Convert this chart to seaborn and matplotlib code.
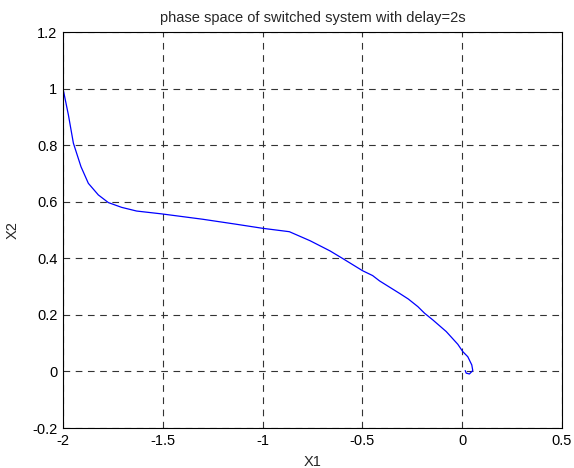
import matplotlib
matplotlib.use("Agg")
import matplotlib.pyplot as plt
import seaborn as sns
import pandas as pd

x1 = [-2.0, -1.973, -1.948, -1.91, -1.873, -1.823, -1.773, -1.706, -1.631, -1.506,
      -1.30, -1.138, -1.0, -0.866, -0.762, -0.662, -0.596, -0.499, -0.449, -0.414,
      -0.314, -0.27, -0.222, -0.189, -0.147, -0.08, -0.022, 0.003, 0.028, 0.048,
      0.053, 0.036, 0.02, 0.015]
x2 = [1.0, 0.907, 0.807, 0.724, 0.665, 0.624, 0.597, 0.580, 0.567, 0.557,
      0.538, 0.521, 0.506, 0.494, 0.462, 0.426, 0.398, 0.356, 0.339, 0.320,
      0.276, 0.256, 0.229, 0.206, 0.182, 0.141, 0.096, 0.070, 0.052, 0.023,
      0.003, -0.009, -0.006, 0.003]

xticks = [-2, -1.5, -1, -0.5, 0, 0.5]
yticks = [-0.2, 0, 0.2, 0.4, 0.6, 0.8, 1, 1.2]
xtick_labels = ["-2", "-1.5", "-1", "-0.5", "0", "0.5"]
ytick_labels = ["-0.2", "0", "0.2", "0.4", "0.6", "0.8", "1", "1.2"]

df = pd.DataFrame({"X1": x1, "X2": x2})

sns.set_style("white")
plt.rcParams["font.family"] = ["Liberation Sans", "DejaVu Sans"]

fig = plt.figure(figsize=(5.74, 4.68), dpi=100)
ax = fig.add_axes([63/574, 1-428/468, (562-63)/574, (428-32)/468])

sns.lineplot(data=df, x="X1", y="X2", sort=False, estimator=None, color="#0000ff",
             linewidth=0.9, ax=ax)

ax.set_xlim(-2, 0.5)
ax.set_ylim(-0.2, 1.2)
ax.set_xticks(xticks)
ax.set_xticklabels(xtick_labels)
ax.set_yticks(yticks)
ax.set_yticklabels(ytick_labels)
ax.grid(True, color="#333333", linestyle=(0, (6, 5)), linewidth=0.8)
ax.tick_params(direction="in", length=4, labelsize=10.5, colors="black", pad=4)
for s in ax.spines.values():
    s.set_color("black")
    s.set_linewidth(0.8)
    s.set_visible(True)
ax.set_title("phase space of switched system with delay=2s", fontsize=10.5, pad=7)
ax.set_xlabel("X1", fontsize=10.5, labelpad=5)
ax.set_ylabel("X2", fontsize=10.5, labelpad=9)

fig.savefig("out.png", dpi=100)
